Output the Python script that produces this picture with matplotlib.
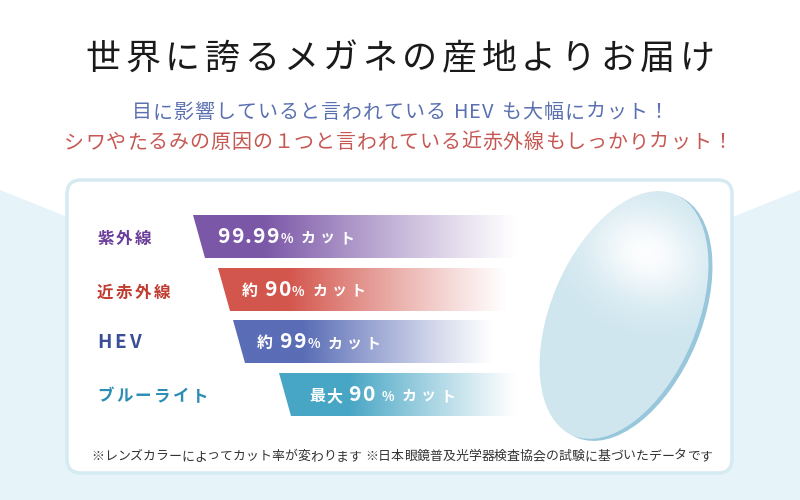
import matplotlib
matplotlib.use('Agg')
import matplotlib.pyplot as plt
import numpy as np
from matplotlib.patches import Polygon, FancyBboxPatch, Ellipse
from matplotlib.colors import to_rgb

plt.rcParams['font.family'] = ['Noto Sans CJK JP', 'DejaVu Sans']

# ---------------- data ----------------
title = "世界に誇るメガネの産地よりお届け"
sub1 = "目に影響していると言われている HEV も大幅にカット！"
sub2 = "シワやたるみの原因の１つと言われている近赤外線もしっかりカット！"
categories = ["紫外線", "近赤外線", "HEV", "ブルーライト"]
cut_prefix = ["", "約 ", "約 ", "最大"]
cut_values = ["99.99", "90", "99", "90"]
cut_unit = "%"
cut_word = "カット"
bar_start = [193, 218, 233, 279]
bar_end = [517, 507, 493, 517]
bar_colors = ['#7b57a7', '#d3564d', '#5a6db6', '#48a6c5']
label_colors = ['#6a3e98', '#c03b30', '#3a4f98', '#2a8db3']
note = "※レンズカラーによってカット率が変わります ※日本眼鏡普及光学器検査協会の試験に基づいたデータです"

# ---------------- figure ----------------
fig = plt.figure(figsize=(8, 5), dpi=100)
ax = fig.add_axes([0, 0, 1, 1])
ax.set_xlim(0, 800)
ax.set_ylim(500, 0)
ax.axis('off')
renderer = fig.canvas.get_renderer()

PX = 0.72  # pt per px at 100 dpi


def width_of(t):
    return t.get_window_extent(renderer=renderer).width


def tracked(x, y, s, size_px, color, track=0.0, weight='normal', ha='left', z=10):
    """draw string char by char with letter spacing; y is baseline"""
    objs = []
    pos = 0.0
    for ch in s:
        if ch == ' ':
            pos += size_px * 0.3 + track
            continue
        t = ax.text(0, y, ch, fontsize=size_px * PX, color=color, weight=weight,
                    ha='left', va='baseline', zorder=z)
        w = width_of(t)
        objs.append((t, pos))
        pos += w + track
    total = pos - track
    if ha == 'center':
        x0 = x - total / 2
    elif ha == 'right':
        x0 = x - total
    else:
        x0 = x
    for t, p in objs:
        t.set_x(x0 + p)
    return x0 + total


# background
ax.add_patch(Polygon([(0, 0), (800, 0), (800, 500), (0, 500)], closed=True,
                     fc='white', ec='none', zorder=0))
ax.add_patch(Polygon([(0, 190), (400, 350), (800, 190), (800, 500), (0, 500)],
                     closed=True, fc='#e6f3f8', ec='none', zorder=1))

# card
ax.add_patch(FancyBboxPatch((67, 180), 665, 293,
                            boxstyle='round,pad=0,rounding_size=14',
                            fc='white', ec='#d6eaf2', lw=2.5, zorder=2))

# titles
tracked(400, 69, title, 35, '#1a1a1a', track=4.6, ha='center')
tracked(400, 118, sub1, 20, '#5a70b0', track=1.0, ha='center')
tracked(398, 148, sub2, 20, '#c65853', track=0.9, ha='center')

# bars
row_top0 = 215
row_pitch = 52.7
bar_h = 43
slant = 12
label_baselines = [244, 298, 348, 401]
for i, cat in enumerate(categories):
    top = row_top0 + i * row_pitch
    bot = top + bar_h
    x0 = bar_start[i]
    x1 = bar_end[i]
    poly = Polygon([(x0, top), (x1, top), (x1, bot), (x0 + slant, bot)],
                   closed=True, fc='none', ec='none')
    ax.add_patch(poly)
    xs = np.linspace(x0, x1, 400)
    solid = x0 + 70
    a = np.clip(1 - (xs - solid) / (x1 - solid), 0, 1) ** 1.1
    base = np.array(to_rgb(bar_colors[i]))
    img = (1 - a[:, None]) * np.ones(3) + a[:, None] * base
    im = ax.imshow(img[None, :, :], extent=(x0, x1, bot, top), aspect='auto',
                   interpolation='bilinear', zorder=3)
    im.set_clip_path(poly)

    # left label
    if cat == "HEV":
        tracked(97, label_baselines[i], cat, 19, label_colors[i], track=3.2, weight='bold')
    else:
        tracked(97, label_baselines[i], cat, 16.5, label_colors[i], track=2.5, weight='bold')

    # bar text
    bl = bot - 15
    x = x0 + 24 + (6 if i == 3 else 0)
    if cut_prefix[i].strip():
        x = tracked(x, bl, cut_prefix[i].strip(), 16, 'white', track=1.5, weight='bold') + 6
    x = tracked(x, bl, cut_values[i], 21, 'white', track=1.2, weight='bold') + 2
    if i == 3:
        x += 5
    x = tracked(x, bl, cut_unit, 13, 'white', weight='bold') + 8
    tracked(x, bl, cut_word, 15, 'white', track=4, weight='bold')

# lens
cx, cy = 624, 315
major, minor = 262, 146
ang = -67
ax.add_patch(Ellipse((cx + 4, cy + 2), major, minor, angle=ang,
                     fc='#98c6db', ec='none', zorder=3))
face = Ellipse((cx, cy), major, minor, angle=ang, fc='none', ec='none', zorder=4)
ax.add_patch(face)
gx = np.linspace(535, 715, 240)
gy = np.linspace(180, 450, 360)
X, Y = np.meshgrid(gx, gy)
th = np.deg2rad(ang)
u = ((X - cx) * np.cos(th) + (Y - cy) * np.sin(th)) / (major / 2)
v = (-(X - cx) * np.sin(th) + (Y - cy) * np.cos(th)) / (minor / 2)
basec = np.array(to_rgb('#cfe6ef'))
hl = np.exp(-((u - 0.5) ** 2 / 0.12 + (v + 0.05) ** 2 / 0.6))
hl = np.clip(hl * 1.0, 0, 1)
lens_img = basec[None, None, :] * (1 - hl[..., None] * 0.95) + hl[..., None] * 0.95
im = ax.imshow(lens_img, extent=(535, 715, 450, 180), origin='upper', aspect='auto',
               interpolation='bilinear', zorder=4)
im.set_clip_path(face)

# footnote
tracked(402, 460, note, 12.9, '#333333', track=0.0, ha='center')

fig.savefig('out.png', dpi=100)
